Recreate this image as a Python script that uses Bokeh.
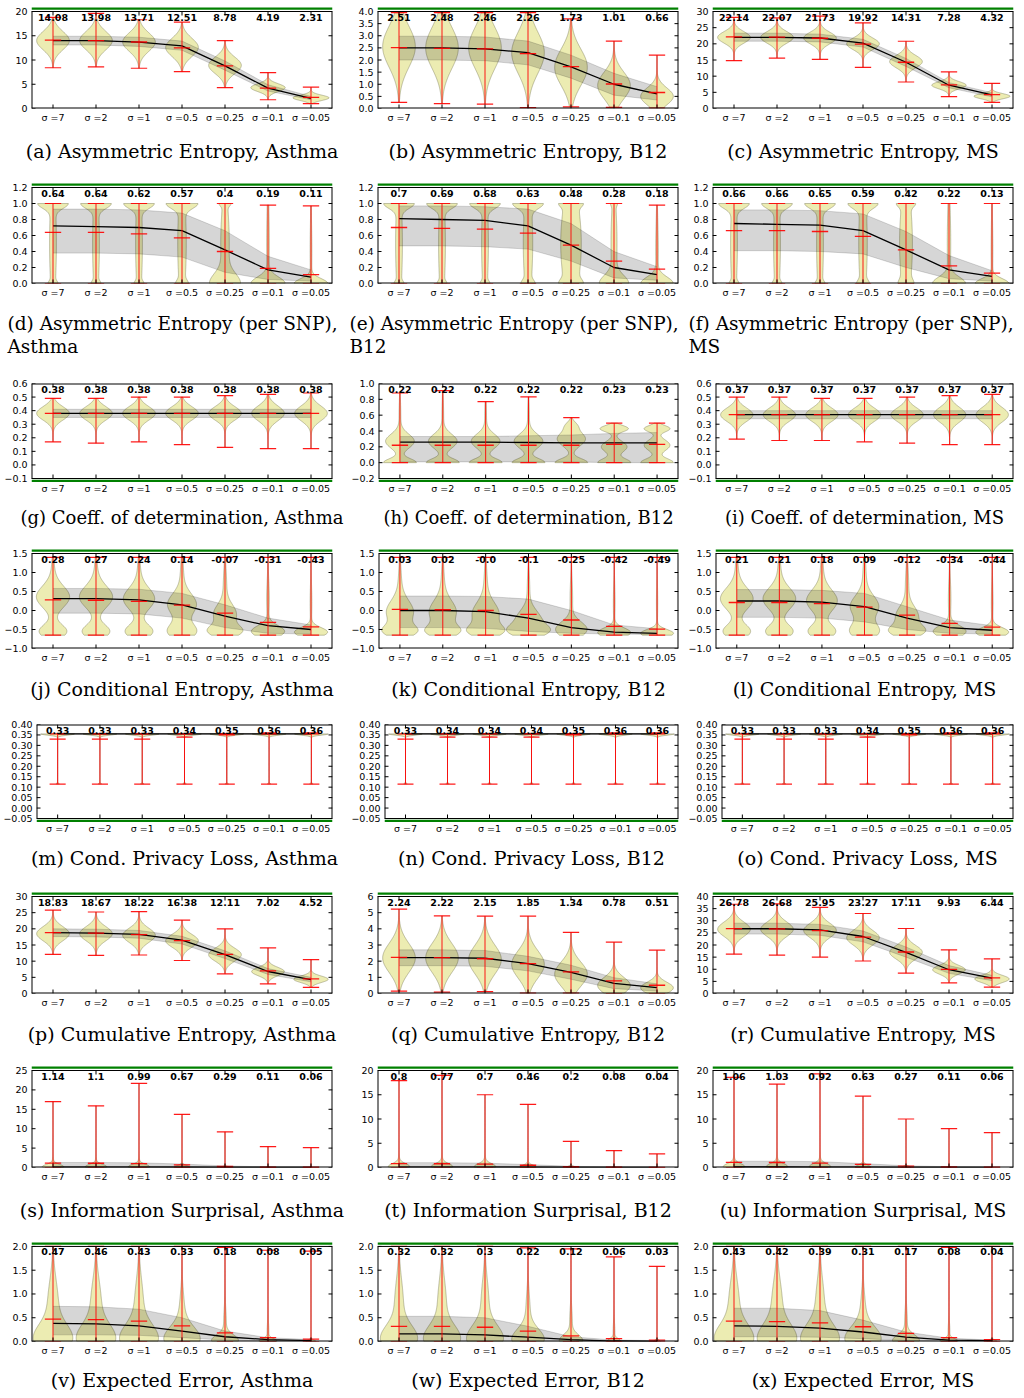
import numpy as np
from bokeh.plotting import figure
from bokeh.models import FixedTicker, Range1d, Span
from bokeh.layouts import column, row
from bokeh.embed import file_html
from bokeh.resources import INLINE
from bokeh.core.properties import value

# ---------------- data ----------------
CATS = ["σ =7", "σ =2", "σ =1", "σ =0.5", "σ =0.25", "σ =0.1", "σ =0.05"]
XS = [1, 2, 3, 4, 5, 6, 7]

CAPTIONS = [
    "(a) Asymmetric Entropy, Asthma", "(b) Asymmetric Entropy, B12", "(c) Asymmetric Entropy, MS",
    "(d) Asymmetric Entropy (per SNP),\nAsthma", "(e) Asymmetric Entropy (per SNP),\nB12",
    "(f) Asymmetric Entropy (per SNP),\nMS",
    "(g) Coeff. of determination, Asthma", "(h) Coeff. of determination, B12", "(i) Coeff. of determination, MS",
    "(j) Conditional Entropy, Asthma", "(k) Conditional Entropy, B12", "(l) Conditional Entropy, MS",
    "(m) Cond. Privacy Loss, Asthma", "(n) Cond. Privacy Loss, B12", "(o) Cond. Privacy Loss, MS",
    "(p) Cumulative Entropy, Asthma", "(q) Cumulative Entropy, B12", "(r) Cumulative Entropy, MS",
    "(s) Information Surprisal, Asthma", "(t) Information Surprisal, B12", "(u) Information Surprisal, MS",
    "(v) Expected Error, Asthma", "(w) Expected Error, B12", "(x) Expected Error, MS",
]

# y ticks / labels
YT_A = [0, 5, 10, 15, 20]; YL_A = ["0", "5", "10", "15", "20"]
YT_B = [0.0, 0.5, 1.0, 1.5, 2.0, 2.5, 3.0, 3.5, 4.0]; YL_B = ["0.0", "0.5", "1.0", "1.5", "2.0", "2.5", "3.0", "3.5", "4.0"]
YT_C = [0, 5, 10, 15, 20, 25, 30]; YL_C = ["0", "5", "10", "15", "20", "25", "30"]
YT_D = [0.0, 0.2, 0.4, 0.6, 0.8, 1.0, 1.2]; YL_D = ["0.0", "0.2", "0.4", "0.6", "0.8", "1.0", "1.2"]
YT_G = [-0.1, 0.0, 0.1, 0.2, 0.3, 0.4, 0.5, 0.6]; YL_G = ["\u22120.1", "0.0", "0.1", "0.2", "0.3", "0.4", "0.5", "0.6"]
YT_H = [-0.2, 0.0, 0.2, 0.4, 0.6, 0.8, 1.0]; YL_H = ["\u22120.2", "0.0", "0.2", "0.4", "0.6", "0.8", "1.0"]
YT_J = [-1.0, -0.5, 0.0, 0.5, 1.0, 1.5]; YL_J = ["\u22121.0", "\u22120.5", "0.0", "0.5", "1.0", "1.5"]
YT_M = [-0.05, 0.0, 0.05, 0.1, 0.15, 0.2, 0.25, 0.3, 0.35, 0.4]
YL_M = ["\u22120.05", "0.00", "0.05", "0.10", "0.15", "0.20", "0.25", "0.30", "0.35", "0.40"]
YT_Q = [0, 1, 2, 3, 4, 5, 6]; YL_Q = ["0", "1", "2", "3", "4", "5", "6"]
YT_R = [0, 5, 10, 15, 20, 25, 30, 35, 40]; YL_R = ["0", "5", "10", "15", "20", "25", "30", "35", "40"]
YT_S = [0, 5, 10, 15, 20, 25]; YL_S = ["0", "5", "10", "15", "20", "25"]
YT_T = [0, 5, 10, 15, 20]; YL_T = ["0", "5", "10", "15", "20"]
YT_V = [0.0, 0.5, 1.0, 1.5, 2.0]; YL_V = ["0.0", "0.5", "1.0", "1.5", "2.0"]

# (a)
a_mean = [14.08, 13.98, 13.71, 12.51, 8.78, 4.19, 2.31]
a_min = [8.4, 8.6, 8.3, 7.6, 4.3, 1.8, 1.0]
a_max = [18.8, 19.6, 18.3, 17.8, 14.0, 7.4, 4.4]
a_fit = [14.0, 14.0, 13.7, 12.9, 8.8, 4.2, 2.1]
a_lo = [13.1, 13.1, 12.8, 12.0, 7.9, 3.6, 1.8]
a_hi = [14.9, 14.9, 14.7, 13.9, 9.8, 4.9, 2.5]
a_vio = [[(14.0, 1.9, 0.38)], [(14.0, 1.9, 0.38)], [(13.7, 1.9, 0.38)], [(12.6, 1.9, 0.38)],
         [(8.9, 1.7, 0.38)], [(4.3, 0.8, 0.40)], [(2.2, 0.55, 0.42)]]
# (b)
b_mean = [2.51, 2.48, 2.46, 2.26, 1.73, 1.01, 0.66]
b_min = [0.25, 0.2, 0.18, 0.04, 0.07, 0.05, 0.02]
b_max = [3.95, 3.95, 3.95, 3.95, 3.7, 2.78, 2.2]
b_fit = [2.5, 2.5, 2.46, 2.3, 1.72, 1.0, 0.6]
b_lo = [2.0, 2.0, 1.97, 1.8, 1.25, 0.55, 0.35]
b_hi = [2.98, 2.98, 2.95, 2.78, 2.2, 1.45, 0.9]
b_vio = [[(2.55, 0.85, 0.38)], [(2.5, 0.85, 0.38)], [(2.5, 0.85, 0.38)], [(2.3, 0.85, 0.38)],
         [(1.7, 0.75, 0.38)], [(0.95, 0.55, 0.38)], [(0.5, 0.35, 0.38)]]
# (c)
c_mean = [22.14, 22.07, 21.73, 19.92, 14.31, 7.28, 4.32]
c_min = [14.8, 15.6, 15.2, 12.7, 8.2, 3.7, 1.9]
c_max = [28.2, 28.0, 28.6, 26.5, 20.8, 11.3, 7.8]
c_fit = [22.0, 22.0, 21.8, 20.2, 14.3, 7.2, 4.2]
c_lo = [20.8, 20.8, 20.6, 19.0, 13.0, 6.4, 3.6]
c_hi = [23.3, 23.3, 23.0, 21.4, 15.5, 8.0, 4.9]
c_vio = [[(22.0, 1.8, 0.38)], [(22.0, 1.8, 0.38)], [(21.8, 1.8, 0.38)], [(20.0, 1.8, 0.38)],
         [(14.5, 1.9, 0.38)], [(7.2, 1.1, 0.40)], [(3.8, 0.8, 0.42)]]
# (d)
d_mean = [0.64, 0.64, 0.62, 0.57, 0.4, 0.19, 0.11]
d_min = [0.0, 0.0, 0.0, 0.0, 0.0, 0.0, 0.0]
d_max = [1.0, 1.0, 1.0, 1.0, 1.0, 0.98, 0.97]
d_fit = [0.72, 0.71, 0.70, 0.66, 0.42, 0.17, 0.08]
d_lo = [0.38, 0.38, 0.37, 0.33, 0.14, 0.05, 0.03]
d_hi = [0.93, 0.93, 0.92, 0.88, 0.66, 0.34, 0.17]
d_vio = [[(1.0, 0.06, 0.30), (0.5, 0.6, 0.08), (0.0, 0.03, 0.06)],
         [(1.0, 0.06, 0.30), (0.5, 0.6, 0.08), (0.0, 0.03, 0.06)],
         [(1.0, 0.06, 0.30), (0.5, 0.6, 0.08), (0.0, 0.03, 0.06)],
         [(1.0, 0.06, 0.30), (0.5, 0.6, 0.10), (0.0, 0.04, 0.08)],
         [(0.0, 0.12, 0.30), (0.5, 0.5, 0.10), (1.0, 0.03, 0.08)],
         [(0.0, 0.08, 0.38), (0.5, 0.5, 0.03)],
         [(0.0, 0.06, 0.38), (0.4, 0.4, 0.02)]]
# (e)
e_mean = [0.7, 0.69, 0.68, 0.63, 0.48, 0.28, 0.18]
e_min = [0.0, 0.0, 0.0, 0.0, 0.0, 0.0, 0.0]
e_max = [1.0, 1.0, 1.0, 1.0, 1.0, 1.0, 0.98]
e_fit = [0.81, 0.80, 0.79, 0.72, 0.48, 0.2, 0.11]
e_lo = [0.47, 0.47, 0.46, 0.43, 0.28, 0.07, 0.04]
e_hi = [0.97, 0.97, 0.96, 0.93, 0.75, 0.4, 0.21]
e_vio = [[(1.0, 0.06, 0.30), (0.5, 0.6, 0.08), (0.0, 0.03, 0.06)],
         [(1.0, 0.06, 0.30), (0.5, 0.6, 0.08), (0.0, 0.03, 0.06)],
         [(1.0, 0.06, 0.30), (0.5, 0.6, 0.08), (0.0, 0.03, 0.06)],
         [(1.0, 0.06, 0.28), (0.5, 0.6, 0.11), (0.0, 0.04, 0.09)],
         [(1.0, 0.04, 0.12), (0.5, 0.6, 0.24), (0.0, 0.05, 0.12)],
         [(0.0, 0.10, 0.30), (0.5, 0.5, 0.07), (1.0, 0.03, 0.04)],
         [(0.0, 0.08, 0.36), (0.4, 0.4, 0.03)]]
# (f)
f_mean = [0.66, 0.66, 0.65, 0.59, 0.42, 0.22, 0.13]
f_min = [0.0, 0.0, 0.0, 0.0, 0.0, 0.0, 0.0]
f_max = [1.0, 1.0, 1.0, 1.0, 1.0, 1.0, 1.0]
f_fit = [0.75, 0.74, 0.73, 0.66, 0.42, 0.17, 0.09]
f_lo = [0.41, 0.41, 0.40, 0.37, 0.2, 0.06, 0.03]
f_hi = [0.92, 0.92, 0.91, 0.87, 0.65, 0.35, 0.16]
f_vio = [[(1.0, 0.06, 0.30), (0.5, 0.6, 0.08), (0.0, 0.03, 0.06)],
         [(1.0, 0.06, 0.30), (0.5, 0.6, 0.08), (0.0, 0.03, 0.06)],
         [(1.0, 0.06, 0.30), (0.5, 0.6, 0.08), (0.0, 0.03, 0.06)],
         [(1.0, 0.06, 0.28), (0.5, 0.6, 0.10), (0.0, 0.04, 0.08)],
         [(1.0, 0.04, 0.12), (0.5, 0.6, 0.15), (0.0, 0.05, 0.08)],
         [(0.0, 0.08, 0.36), (0.5, 0.5, 0.04)],
         [(0.0, 0.06, 0.38), (0.4, 0.4, 0.02)]]
# (g)
g_mean = [0.38, 0.38, 0.38, 0.38, 0.38, 0.38, 0.38]
g_min = [0.17, 0.16, 0.17, 0.15, 0.13, 0.12, 0.12]
g_max = [0.49, 0.49, 0.50, 0.50, 0.51, 0.52, 0.53]
g_fit = [0.38, 0.38, 0.38, 0.38, 0.38, 0.38, 0.38]
g_lo = [0.35, 0.35, 0.35, 0.35, 0.35, 0.35, 0.35]
g_hi = [0.41, 0.41, 0.41, 0.41, 0.41, 0.41, 0.41]
g_vio = [[(0.38, 0.05, 0.38)], [(0.38, 0.05, 0.38)], [(0.38, 0.05, 0.38)], [(0.38, 0.05, 0.38)],
         [(0.38, 0.05, 0.38)], [(0.38, 0.055, 0.38)], [(0.38, 0.055, 0.38)]]
# (h)
h_mean = [0.22, 0.22, 0.22, 0.22, 0.22, 0.23, 0.23]
h_min = [0.0, 0.0, 0.0, 0.0, 0.0, 0.0, 0.0]
h_max = [0.88, 0.91, 0.77, 0.83, 0.57, 0.5, 0.5]
h_fit = [0.26, 0.26, 0.26, 0.255, 0.25, 0.25, 0.25]
h_lo = [0.01, 0.01, 0.01, 0.01, 0.01, 0.0, 0.0]
h_hi = [0.33, 0.33, 0.33, 0.34, 0.35, 0.37, 0.38]
h_vio = [[(0.27, 0.09, 0.33), (0.0, 0.05, 0.38), (0.6, 0.2, 0.02)],
         [(0.27, 0.09, 0.33), (0.0, 0.05, 0.38), (0.6, 0.2, 0.02)],
         [(0.27, 0.09, 0.33), (0.0, 0.05, 0.38), (0.6, 0.2, 0.02)],
         [(0.27, 0.09, 0.33), (0.0, 0.05, 0.38), (0.6, 0.2, 0.02)],
         [(0.3, 0.09, 0.33), (0.0, 0.05, 0.38), (0.47, 0.05, 0.1)],
         [(0.2, 0.07, 0.3), (0.43, 0.04, 0.33), (0.0, 0.05, 0.38)],
         [(0.22, 0.07, 0.3), (0.43, 0.04, 0.3), (0.0, 0.05, 0.38)]]
# (i)
i_mean = [0.37, 0.37, 0.37, 0.37, 0.37, 0.37, 0.37]
i_min = [0.19, 0.18, 0.18, 0.17, 0.16, 0.15, 0.15]
i_max = [0.50, 0.50, 0.49, 0.49, 0.50, 0.51, 0.52]
i_fit = [0.37, 0.37, 0.37, 0.37, 0.37, 0.37, 0.37]
i_lo = [0.34, 0.34, 0.34, 0.34, 0.34, 0.34, 0.34]
i_hi = [0.40, 0.40, 0.40, 0.40, 0.40, 0.40, 0.40]
i_vio = [[(0.37, 0.05, 0.38)], [(0.37, 0.05, 0.38)], [(0.37, 0.05, 0.38)], [(0.37, 0.05, 0.38)],
         [(0.37, 0.05, 0.38)], [(0.37, 0.055, 0.38)], [(0.37, 0.055, 0.38)]]
# (j)
j_mean = [0.28, 0.27, 0.24, 0.14, -0.07, -0.31, -0.43]
j_min = [-0.65, -0.65, -0.65, -0.65, -0.65, -0.65, -0.65]
j_max = [1.4, 1.4, 1.4, 1.4, 1.4, 1.4, 1.4]
j_fit = [0.31, 0.31, 0.28, 0.15, -0.15, -0.4, -0.5]
j_lo = [-0.07, -0.07, -0.09, -0.2, -0.45, -0.6, -0.62]
j_hi = [0.58, 0.58, 0.56, 0.45, 0.15, -0.2, -0.38]
j_vio = [[(0.35, 0.28, 0.36), (-0.55, 0.18, 0.32), (0.8, 0.5, 0.04)],
         [(0.35, 0.28, 0.36), (-0.55, 0.18, 0.32), (0.8, 0.5, 0.04)],
         [(0.3, 0.28, 0.34), (-0.55, 0.18, 0.32), (0.8, 0.5, 0.04)],
         [(0.15, 0.28, 0.32), (-0.55, 0.2, 0.33), (0.8, 0.5, 0.04)],
         [(-0.1, 0.25, 0.25), (-0.55, 0.15, 0.36), (0.6, 0.5, 0.04)],
         [(-0.55, 0.15, 0.38), (0.3, 0.5, 0.03)],
         [(-0.57, 0.12, 0.38), (0.2, 0.5, 0.02)]]
# (k)
k_mean = [0.03, 0.02, -0.0, -0.1, -0.25, -0.42, -0.49]
k_min = [-0.65, -0.65, -0.65, -0.65, -0.65, -0.65, -0.65]
k_max = [1.4, 1.4, 1.4, 1.4, 1.4, 1.4, 1.4]
k_fit = [0.0, 0.0, -0.03, -0.2, -0.45, -0.57, -0.6]
k_lo = [-0.45, -0.45, -0.47, -0.55, -0.6, -0.62, -0.63]
k_hi = [0.38, 0.38, 0.37, 0.3, 0.0, -0.38, -0.48]
k_vio = [[(-0.05, 0.3, 0.3), (-0.55, 0.15, 0.34), (0.6, 0.5, 0.04)],
         [(-0.05, 0.3, 0.3), (-0.55, 0.15, 0.34), (0.6, 0.5, 0.04)],
         [(-0.1, 0.3, 0.3), (-0.55, 0.15, 0.34), (0.6, 0.5, 0.04)],
         [(-0.25, 0.25, 0.28), (-0.55, 0.15, 0.36), (0.5, 0.5, 0.03)],
         [(-0.5, 0.2, 0.36), (0.3, 0.5, 0.03)],
         [(-0.58, 0.12, 0.38), (0.2, 0.5, 0.02)],
         [(-0.6, 0.1, 0.38), (0.2, 0.5, 0.015)]]
# (l)
l_mean = [0.21, 0.21, 0.18, 0.09, -0.12, -0.34, -0.44]
l_min = [-0.65, -0.65, -0.65, -0.65, -0.65, -0.65, -0.65]
l_max = [1.4, 1.4, 1.4, 1.4, 1.4, 1.4, 1.4]
l_fit = [0.25, 0.25, 0.22, 0.1, -0.2, -0.45, -0.52]
l_lo = [-0.18, -0.18, -0.2, -0.3, -0.5, -0.6, -0.62]
l_hi = [0.55, 0.55, 0.53, 0.45, 0.1, -0.25, -0.4]
l_vio = [[(0.3, 0.28, 0.36), (-0.55, 0.18, 0.32), (0.8, 0.5, 0.04)],
         [(0.3, 0.28, 0.36), (-0.55, 0.18, 0.32), (0.8, 0.5, 0.04)],
         [(0.25, 0.28, 0.34), (-0.55, 0.18, 0.32), (0.8, 0.5, 0.04)],
         [(0.1, 0.28, 0.32), (-0.55, 0.2, 0.33), (0.8, 0.5, 0.04)],
         [(-0.15, 0.25, 0.25), (-0.55, 0.15, 0.36), (0.6, 0.5, 0.04)],
         [(-0.55, 0.15, 0.38), (0.3, 0.5, 0.03)],
         [(-0.57, 0.12, 0.38), (0.2, 0.5, 0.02)]]
# (m) (n) (o)
m_mean = [0.33, 0.33, 0.33, 0.34, 0.35, 0.36, 0.36]
n_mean = [0.33, 0.34, 0.34, 0.34, 0.35, 0.36, 0.36]
o_mean = [0.33, 0.33, 0.33, 0.34, 0.35, 0.36, 0.36]
mno_min = [0.115, 0.115, 0.115, 0.115, 0.115, 0.115, 0.115]
mno_max = [0.355, 0.355, 0.355, 0.355, 0.355, 0.355, 0.355]
mno_fit = [0.355, 0.355, 0.355, 0.355, 0.355, 0.355, 0.355]
mno_lo = [0.353, 0.353, 0.353, 0.353, 0.353, 0.353, 0.353]
mno_hi = [0.357, 0.357, 0.357, 0.357, 0.357, 0.357, 0.357]
mno_vio = [[(0.355, 0.006, 0.40), (0.115, 0.004, 0.04)]] * 7
# (p)
p_mean = [18.83, 18.67, 18.22, 16.38, 12.11, 7.02, 4.52]
p_min = [12.1, 11.8, 11.9, 10.2, 6.1, 3.0, 1.9]
p_max = [25.8, 25.2, 25.3, 22.7, 20.0, 14.1, 10.5]
p_fit = [18.8, 18.7, 18.3, 16.5, 12.0, 6.8, 4.3]
p_lo = [17.6, 17.5, 17.1, 15.3, 10.8, 5.9, 3.6]
p_hi = [20.0, 19.9, 19.5, 17.7, 13.2, 7.7, 5.0]
p_vio = [[(18.5, 2.2, 0.38)], [(18.5, 2.2, 0.38)], [(18.0, 2.2, 0.38)], [(16.3, 2.0, 0.38)],
         [(12.0, 2.0, 0.38)], [(6.8, 1.3, 0.38)], [(4.4, 1.0, 0.40)]]
# (q)
q_mean = [2.24, 2.22, 2.15, 1.85, 1.34, 0.78, 0.51]
q_min = [0.15, 0.08, 0.12, 0.02, 0.02, 0.0, 0.0]
q_max = [5.22, 4.8, 4.78, 4.78, 3.78, 3.18, 2.68]
q_fit = [2.22, 2.22, 2.18, 1.85, 1.3, 0.62, 0.36]
q_lo = [1.72, 1.72, 1.68, 1.4, 0.88, 0.3, 0.15]
q_hi = [2.7, 2.7, 2.66, 2.3, 1.75, 0.98, 0.6]
q_vio = [[(2.2, 0.9, 0.38)], [(2.2, 0.9, 0.38)], [(2.1, 0.9, 0.38)], [(1.8, 0.85, 0.38)],
         [(1.2, 0.75, 0.38)], [(0.5, 0.5, 0.38)], [(0.35, 0.35, 0.38)]]
# (r)
r_mean = [26.78, 26.68, 25.95, 23.27, 17.11, 9.93, 6.44]
r_min = [16.2, 15.8, 15.0, 13.4, 8.4, 4.4, 2.6]
r_max = [36.8, 37.0, 35.5, 33.0, 26.8, 18.0, 14.3]
r_fit = [26.7, 26.7, 26.2, 23.5, 17.0, 9.8, 6.3]
r_lo = [24.5, 24.5, 24.0, 21.3, 15.0, 8.3, 5.3]
r_hi = [29.0, 29.0, 28.5, 25.8, 19.2, 11.5, 7.5]
r_vio = [[(26.5, 3.0, 0.38)], [(26.5, 3.0, 0.38)], [(26.0, 3.0, 0.38)], [(23.0, 3.0, 0.38)],
         [(17.0, 2.8, 0.38)], [(9.8, 1.8, 0.38)], [(6.0, 1.5, 0.40)]]
# (s) (t) (u)
stu_min = [0.0, 0.0, 0.0, 0.0, 0.0, 0.0, 0.0]
stu_lo = [0.0, 0.0, 0.0, 0.0, 0.0, 0.0, 0.0]
stu_vio = [[(0.2, 0.6, 0.22), (0.0, 1.5, 0.03)], [(0.2, 0.6, 0.22), (0.0, 1.5, 0.03)],
           [(0.2, 0.6, 0.22), (0.0, 1.5, 0.03)], [(0.1, 0.4, 0.16), (0.0, 1.0, 0.02)],
           [(0.05, 0.2, 0.10), (0.0, 0.6, 0.01)], [(0.02, 0.1, 0.05)], [(0.0, 0.05, 0.03)]]
s_mean = [1.14, 1.1, 0.99, 0.67, 0.29, 0.11, 0.06]
s_max = [17.0, 15.9, 21.7, 13.7, 9.2, 5.4, 5.1]
s_fit = [0.1, 0.1, 0.09, 0.06, 0.02, 0.01, 0.0]
s_hi = [1.3, 1.3, 1.2, 0.9, 0.4, 0.15, 0.1]
t_mean = [0.8, 0.77, 0.7, 0.46, 0.2, 0.08, 0.04]
t_max = [17.9, 19.0, 15.0, 13.0, 5.4, 3.5, 2.8]
t_fit = [0.08, 0.08, 0.07, 0.05, 0.02, 0.01, 0.0]
t_hi = [1.0, 1.0, 0.9, 0.6, 0.25, 0.1, 0.05]
u_mean = [1.06, 1.03, 0.92, 0.63, 0.27, 0.11, 0.06]
u_max = [18.6, 17.2, 19.3, 14.7, 10.0, 8.0, 7.2]
u_fit = [0.1, 0.1, 0.09, 0.06, 0.02, 0.01, 0.0]
u_hi = [1.3, 1.3, 1.2, 0.8, 0.35, 0.15, 0.08]
# (v) (w) (x)
vwx_min = [0.0, 0.0, 0.0, 0.0, 0.0, 0.0, 0.0]
v_mean = [0.47, 0.46, 0.43, 0.33, 0.18, 0.08, 0.05]
v_max = [2.0, 2.0, 2.0, 2.0, 1.98, 1.92, 1.9]
v_fit = [0.38, 0.37, 0.33, 0.22, 0.1, 0.04, 0.02]
v_lo = [0.14, 0.14, 0.13, 0.08, 0.03, 0.01, 0.0]
v_hi = [0.74, 0.73, 0.68, 0.5, 0.22, 0.08, 0.04]
v_vio = [[(0.05, 0.3, 0.42), (0.8, 0.5, 0.12)], [(0.05, 0.3, 0.42), (0.8, 0.5, 0.12)],
         [(0.05, 0.3, 0.42), (0.8, 0.5, 0.10)], [(0.05, 0.25, 0.40), (0.6, 0.4, 0.06)],
         [(0.02, 0.12, 0.30), (0.4, 0.3, 0.03)], [(0.01, 0.05, 0.20), (0.2, 0.2, 0.02)],
         [(0.0, 0.03, 0.12)]]
w_mean = [0.32, 0.32, 0.3, 0.22, 0.12, 0.06, 0.03]
w_max = [2.0, 2.0, 2.0, 1.97, 1.95, 1.78, 1.58]
w_fit = [0.16, 0.16, 0.14, 0.09, 0.04, 0.01, 0.0]
w_lo = [0.0, 0.0, 0.0, 0.0, 0.0, 0.0, 0.0]
w_hi = [0.53, 0.53, 0.5, 0.32, 0.1, 0.03, 0.02]
w_vio = [[(0.05, 0.28, 0.40), (0.8, 0.5, 0.10)], [(0.05, 0.28, 0.40), (0.8, 0.5, 0.10)],
         [(0.05, 0.28, 0.40), (0.8, 0.5, 0.09)], [(0.04, 0.22, 0.36), (0.6, 0.4, 0.05)],
         [(0.02, 0.12, 0.26), (0.4, 0.3, 0.03)], [(0.01, 0.05, 0.14), (0.2, 0.2, 0.02)],
         [(0.0, 0.03, 0.08)]]
x_mean = [0.43, 0.42, 0.39, 0.31, 0.17, 0.08, 0.04]
x_max = [2.0, 2.0, 2.0, 2.0, 2.0, 1.98, 2.0]
x_fit = [0.33, 0.32, 0.28, 0.2, 0.09, 0.03, 0.02]
x_lo = [0.1, 0.1, 0.09, 0.06, 0.02, 0.0, 0.0]
x_hi = [0.7, 0.7, 0.65, 0.45, 0.2, 0.07, 0.03]
x_vio = v_vio

# ---------------- layout constants ----------------
COL_W = [348, 337, 339]
COL_LEFT = [31, 29, 27]
CAP_X = [7, 1, 3]
CAP_DX = [-4, -9, 0]
FRAME_W = 301
TOP = 11
ROW_H = [176, 196, 170, 171, 172, 174, 176, 163]
FRAME_H = [97, 96, 95, 95, 94, 97, 97, 96]
CAP_STANDOFF = [24, 21, 17, 21, 17, 21, 24, 16]
CAP_LH = [1.2, 1.1, 1.2, 1.2, 1.2, 1.2, 1.2, 0.9]
CAP_FS = ["19px", "18.5px", "18px", "19px", "19px", "19px", "19px", "19px"]
GREEN = ["top", "top", "bottom", "top", "bottom", "top", "top", "top"]
EXT_TOP = 5
EXT_BOT = 4
CAP = 0.19
GREEN_C = "#008000"
XR = (0.5, 7.5)


def panel(idx, yt, yl, mean, vmin, vmax, fit, blo, bhi, vio):
    r, c = divmod(idx, 3)
    W, left, H, fh = COL_W[c], COL_LEFT[c], ROW_H[r], FRAME_H[r]
    ppu = fh / (yt[-1] - yt[0])          # pixels per data unit inside the black box
    if GREEN[r] == "top":
        y0, y1 = yt[0], yt[-1] + EXT_TOP / ppu
        btop, bbot = TOP - EXT_TOP, H - TOP - fh
        gy = yt[-1] + 2.8 / ppu
    else:
        y0, y1 = yt[0] - EXT_BOT / ppu, yt[-1]
        btop, bbot = TOP, H - TOP - fh - EXT_BOT
        gy = yt[0] - 2.3 / ppu
    p = figure(width=W, height=H, output_backend="svg", toolbar_location=None, tools="",
               x_range=Range1d(*XR), y_range=Range1d(y0, y1),
               min_border_left=left, min_border_right=W - left - FRAME_W,
               min_border_top=btop, min_border_bottom=bbot,
               title=CAPTIONS[idx], title_location="below")
    p.background_fill_color = "white"
    p.border_fill_color = "white"
    p.outline_line_color = None
    p.grid.visible = False

    # violins
    xs_l, ys_l = [], []
    for k in range(7):
        yy = np.linspace(vmin[k], vmax[k], 160)
        w = np.zeros_like(yy)
        for mu, sd, amp in vio[k]:
            w = w + amp * np.exp(-0.5 * ((yy - mu) / sd) ** 2)
        xs_l.append(list(np.r_[XS[k] - w, (XS[k] + w)[::-1]]))
        ys_l.append(list(np.r_[yy, yy[::-1]]))
    p.patches(xs_l, ys_l, fill_color="#bfbf00", fill_alpha=0.3,
              line_color="#7a7a55", line_alpha=0.45, line_width=1)

    # band + fit line
    p.varea(x=XS, y1=blo, y2=bhi, fill_color="black", fill_alpha=0.16)
    p.line(XS, blo, line_color="black", line_alpha=0.15, line_width=1)
    p.line(XS, bhi, line_color="black", line_alpha=0.15, line_width=1)
    p.line(XS, fit, line_color="black", line_width=1.3)

    # red extrema / mean bars
    xl = [x - CAP for x in XS]
    xr = [x + CAP for x in XS]
    p.segment(x0=XS, y0=vmin, x1=XS, y1=vmax, line_color="#ff0000", line_width=1, line_alpha=0.9)
    p.segment(x0=xl, y0=vmin, x1=xr, y1=vmin, line_color="#ff0000", line_width=1.2, line_alpha=0.9)
    p.segment(x0=xl, y0=vmax, x1=xr, y1=vmax, line_color="#ff0000", line_width=1.2, line_alpha=0.9)
    p.segment(x0=xl, y0=mean, x1=xr, y1=mean, line_color="#ff0000", line_width=1.3, line_alpha=0.9)

    # mean labels
    p.text(x=XS, y=[yt[-1]] * 7, text=[str(m) for m in mean],
           text_font=value("DejaVu Sans"), text_font_size="9.5px", text_font_style="bold",
           text_align="center", text_baseline="top", y_offset=2, text_color="black")

    # black axes box (between first and last y tick)
    top_w = 1 if GREEN[r] == "top" else 2
    bot_w = 1 if GREEN[r] == "bottom" else 2
    p.segment(x0=[XR[0]], y0=[yt[-1]], x1=[XR[1]], y1=[yt[-1]], line_color="black", line_width=top_w)
    p.segment(x0=[XR[0]], y0=[yt[0]], x1=[XR[1]], y1=[yt[0]], line_color="black", line_width=bot_w)
    p.segment(x0=[XR[0], XR[1]], y0=[yt[0], yt[0]], x1=[XR[0], XR[1]], y1=[yt[-1], yt[-1]],
              line_color="black", line_width=2)

    # inward ticks on all four sides
    p.ray(x=[XR[0]] * len(yt), y=yt, length=4, length_units="screen", angle=0.0,
          line_color="black", line_width=1)
    p.ray(x=[XR[1]] * len(yt), y=yt, length=4, length_units="screen", angle=np.pi,
          line_color="black", line_width=1)
    p.ray(x=XS, y=[yt[0]] * 7, length=4, length_units="screen", angle=np.pi / 2,
          line_color="black", line_width=1)
    p.ray(x=XS, y=[yt[-1]] * 7, length=4, length_units="screen", angle=-np.pi / 2,
          line_color="black", line_width=1)

    # green marker line
    p.add_layout(Span(location=gy, dimension="width", line_color=GREEN_C, line_width=2.2))

    # axes (labels only)
    xa = p.xaxis[0]
    xa.ticker = FixedTicker(ticks=XS)
    xa.major_label_overrides = {x: s for x, s in zip(XS, CATS)}
    ya = p.yaxis[0]
    ya.ticker = FixedTicker(ticks=yt)
    ya.major_label_overrides = {t: s for t, s in zip(yt, yl)}
    for ax in (xa, ya):
        ax.major_tick_in = 0
        ax.major_tick_out = 0
        ax.major_tick_line_color = None
        ax.minor_tick_line_color = None
        ax.axis_line_color = None
        ax.major_label_text_font = "DejaVu Sans"
        ax.major_label_text_font_size = "9.5px"
        ax.major_label_text_color = "black"
    ya.major_label_standoff = 4
    xa.major_label_standoff = 3 if GREEN[r] == "top" else 0

    # caption
    t = p.title
    t.text_font = "DejaVu Serif"
    t.text_font_size = CAP_FS[r]
    t.text_font_style = "normal"
    t.text_color = "black"
    t.standoff = CAP_STANDOFF[r]
    t.text_line_height = CAP_LH[r]
    if "\n" in CAPTIONS[idx]:
        t.align = "left"
        t.offset = -(left - CAP_X[c])
    else:
        t.align = "center"
        t.offset = CAP_DX[c]
    return p


specs = [
    (YT_A, YL_A, a_mean, a_min, a_max, a_fit, a_lo, a_hi, a_vio),
    (YT_B, YL_B, b_mean, b_min, b_max, b_fit, b_lo, b_hi, b_vio),
    (YT_C, YL_C, c_mean, c_min, c_max, c_fit, c_lo, c_hi, c_vio),
    (YT_D, YL_D, d_mean, d_min, d_max, d_fit, d_lo, d_hi, d_vio),
    (YT_D, YL_D, e_mean, e_min, e_max, e_fit, e_lo, e_hi, e_vio),
    (YT_D, YL_D, f_mean, f_min, f_max, f_fit, f_lo, f_hi, f_vio),
    (YT_G, YL_G, g_mean, g_min, g_max, g_fit, g_lo, g_hi, g_vio),
    (YT_H, YL_H, h_mean, h_min, h_max, h_fit, h_lo, h_hi, h_vio),
    (YT_G, YL_G, i_mean, i_min, i_max, i_fit, i_lo, i_hi, i_vio),
    (YT_J, YL_J, j_mean, j_min, j_max, j_fit, j_lo, j_hi, j_vio),
    (YT_J, YL_J, k_mean, k_min, k_max, k_fit, k_lo, k_hi, k_vio),
    (YT_J, YL_J, l_mean, l_min, l_max, l_fit, l_lo, l_hi, l_vio),
    (YT_M, YL_M, m_mean, mno_min, mno_max, mno_fit, mno_lo, mno_hi, mno_vio),
    (YT_M, YL_M, n_mean, mno_min, mno_max, mno_fit, mno_lo, mno_hi, mno_vio),
    (YT_M, YL_M, o_mean, mno_min, mno_max, mno_fit, mno_lo, mno_hi, mno_vio),
    (YT_C, YL_C, p_mean, p_min, p_max, p_fit, p_lo, p_hi, p_vio),
    (YT_Q, YL_Q, q_mean, q_min, q_max, q_fit, q_lo, q_hi, q_vio),
    (YT_R, YL_R, r_mean, r_min, r_max, r_fit, r_lo, r_hi, r_vio),
    (YT_S, YL_S, s_mean, stu_min, s_max, s_fit, stu_lo, s_hi, stu_vio),
    (YT_T, YL_T, t_mean, stu_min, t_max, t_fit, stu_lo, t_hi, stu_vio),
    (YT_T, YL_T, u_mean, stu_min, u_max, u_fit, stu_lo, u_hi, stu_vio),
    (YT_V, YL_V, v_mean, vwx_min, v_max, v_fit, v_lo, v_hi, v_vio),
    (YT_V, YL_V, w_mean, vwx_min, w_max, w_fit, w_lo, w_hi, w_vio),
    (YT_V, YL_V, x_mean, vwx_min, x_max, x_fit, x_lo, x_hi, x_vio),
]

figs = [panel(i, *s) for i, s in enumerate(specs)]
layout = column(*[row(*figs[3 * r:3 * r + 3]) for r in range(8)])

open("out.html", "w").write(file_html(layout, INLINE))
